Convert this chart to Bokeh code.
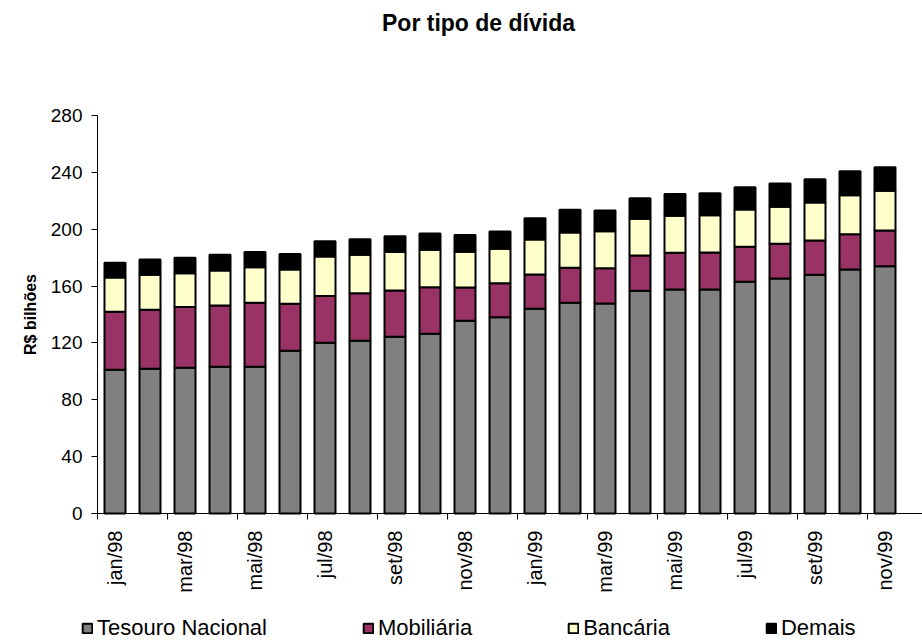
import math
from bokeh.plotting import figure
from bokeh.models import (ColumnDataSource, Range1d, FixedTicker, Legend, LegendItem,
                          LinearAxis, Label)
from bokeh.embed import file_html
from bokeh.resources import INLINE

months = ["jan/98", "fev/98", "mar/98", "abr/98", "mai/98", "jun/98", "jul/98", "ago/98",
          "set/98", "out/98", "nov/98", "dez/98", "jan/99", "fev/99", "mar/99", "abr/99",
          "mai/99", "jun/99", "jul/99", "ago/99", "set/99", "out/99", "nov/99"]
tesouro = [101.1, 101.8, 102.5, 103.2, 103.2, 114.5, 120.1, 121.5, 124.3, 126.4, 135.6, 138.1,
           144.0, 148.2, 147.7, 156.7, 157.6, 157.6, 163.0, 165.3, 167.9, 171.7, 174.0]
mobiliaria = [40.8, 41.5, 42.7, 43.1, 45.0, 33.0, 33.0, 33.5, 32.6, 32.8, 23.4, 23.9,
              24.1, 24.7, 24.9, 24.8, 25.8, 26.0, 24.6, 24.4, 24.2, 24.8, 25.1]
bancaria = [24.1, 24.6, 23.9, 24.7, 25.1, 24.2, 27.7, 27.0, 27.0, 26.3, 25.1, 24.2,
            24.7, 24.8, 26.0, 25.8, 26.0, 26.3, 26.3, 26.1, 26.7, 27.4, 27.9]
demais = [10.4, 10.8, 10.8, 11.0, 10.6, 10.8, 10.8, 11.0, 11.2, 11.5, 11.9, 12.2,
          15.0, 16.0, 14.6, 14.5, 15.3, 15.4, 15.7, 16.4, 16.4, 16.9, 16.6]
series_names = ["Tesouro Nacional", "Mobiliária", "Bancária", "Demais"]
series_colors = ["#808080", "#993366", "#FFFFCC", "#000000"]
y_ticks = [0, 40, 80, 120, 160, 200, 240, 280]
title_text = "Por tipo de dívida"
y_label = "R$ bilhões"

FONT = "Liberation Sans"
W, H = 922, 643
# plot area of the reference, in pixels
PL, PR, PT, PB = 97, 922, 115, 513
n_slots = 23.5714  # visible category slots between PL and PR
ymin, ymax = 0, 280
px_x = (PR - PL) / n_slots
px_y = (PB - PT) / (ymax - ymin)
x0 = -0.5 - PL / px_x
x1 = -0.5 + (W - PL) / px_x
y0 = ymin - (H - PB) / px_y
y1 = ymax + PT / px_y

idx = list(range(len(months)))
source = ColumnDataSource(dict(x=idx, t=tesouro, m=mobiliaria, b=bancaria, d=demais))

p = figure(width=W, height=H, output_backend="svg", toolbar_location=None,
           x_range=Range1d(x0, x1), y_range=Range1d(y0, y1),
           x_axis_location=None, y_axis_location=None, min_border=0)
p.title.visible = False
p.outline_line_color = None
p.background_fill_color = "white"
p.border_fill_color = "white"
p.grid.visible = False
p.grid.grid_line_color = None

renderers = p.vbar_stack(["t", "m", "b", "d"], x="x", width=0.6, source=source,
                         fill_color=series_colors, line_color="black", line_width=2)

# x axis
xa = LinearAxis(fixed_location=ymin, bounds=(-0.5, x1))
xa.ticker = FixedTicker(ticks=idx[::2], minor_ticks=[i - 0.5 for i in idx[::2]])
xa.major_label_overrides = {i: months[i] for i in idx[::2]}
xa.major_label_orientation = math.pi / 2
xa.major_tick_out = 0
xa.major_tick_in = 0
xa.minor_tick_out = 6
xa.minor_tick_in = 0
xa.minor_tick_line_color = "black"
xa.axis_line_color = "black"
xa.major_label_text_font = FONT
xa.major_label_text_font_size = "20px"
xa.major_label_text_color = "black"
xa.major_label_standoff = 11
p.add_layout(xa, "below")

# y axis
ya = LinearAxis(fixed_location=-0.5, bounds=(ymin, ymax))
ya.ticker = FixedTicker(ticks=y_ticks)
ya.minor_tick_line_color = None
ya.major_tick_out = 6
ya.major_tick_in = 0
ya.major_tick_line_color = "black"
ya.axis_line_color = "black"
ya.major_label_text_font = FONT
ya.major_label_text_font_size = "19px"
ya.major_label_text_color = "black"
ya.major_label_standoff = 9
ya.axis_label = y_label
ya.axis_label_text_font = FONT
ya.axis_label_text_font_size = "16px"
ya.axis_label_text_font_style = "bold"
ya.axis_label_text_color = "black"
ya.axis_label_standoff = 9
p.add_layout(ya, "left")

# title
p.add_layout(Label(x=478, y=H - 22, x_units="screen", y_units="screen", text=title_text,
                   text_align="center", text_baseline="middle", text_font=FONT,
                   text_font_size="23px", text_font_style="bold", text_color="black"))

# legend
items = [LegendItem(label=n, renderers=[r]) for n, r in zip(series_names, renderers)]
lg = Legend(items=items, location=(81, 2), orientation="horizontal",
            padding=0, margin=0, spacing=95,
            glyph_width=12, glyph_height=12, label_standoff=4,
            label_text_font=FONT, label_text_font_size="22px", label_text_color="black",
            border_line_alpha=0, background_fill_alpha=0)
p.add_layout(lg, "center")

open("out.html", "w").write(file_html(p, INLINE))
